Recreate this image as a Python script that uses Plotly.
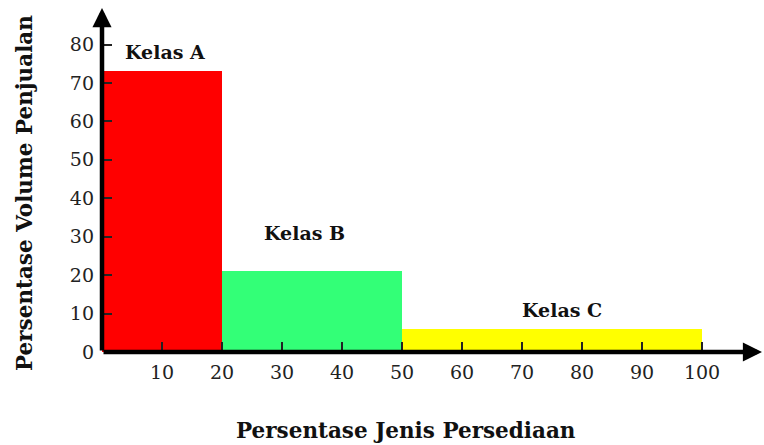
import plotly.graph_objects as go

# Inventory classes (ABC analysis)
classes = ["Kelas A", "Kelas B", "Kelas C"]
item_start = [0, 20, 50]          # cumulative % of inventory items, start of class
item_end = [20, 50, 100]          # cumulative % of inventory items, end of class
sales_share = [73, 21, 6]         # % of sales volume
bar_colors = ["#ff0000", "#33ff77", "#ffff00"]

x_ticks = [10, 20, 30, 40, 50, 60, 70, 80, 90, 100]
y_ticks = [0, 10, 20, 30, 40, 50, 60, 70, 80]

x_title = "Persentase Jenis Persediaan"
y_title = "Persentase Volume Penjualan"

SERIF = "'DejaVu Serif', serif"

centers = [(a + b) / 2 for a, b in zip(item_start, item_end)]
widths = [b - a for a, b in zip(item_start, item_end)]

fig = go.Figure()
fig.add_trace(go.Bar(
    x=centers, y=sales_share, width=widths,
    marker=dict(color=bar_colors, line=dict(width=0)),
    hoverinfo="skip", showlegend=False,
))

# class labels above each bar
label_pos = [(10.5, 78), (33.8, 31), (76.7, 11)]
for name, (lx, ly) in zip(classes, label_pos):
    fig.add_annotation(x=lx, y=ly, text=f"<b>{name}</b>", showarrow=False,
                       font=dict(family=SERIF, size=19, color="#111"))

X_MAX, Y_MAX = 110, 89.5
# arrowed axes
for tip in [(X_MAX, 0), (0, Y_MAX)]:
    fig.add_annotation(x=tip[0], y=tip[1], ax=0, ay=0, axref="x", ayref="y",
                       xref="x", yref="y", text="", showarrow=True, arrowhead=2,
                       arrowsize=0.85, arrowwidth=4.5, arrowcolor="#000")

tick_font = dict(size=19, family=SERIF, color="#222")
title_font = dict(size=21.5, family=SERIF, color="#111")

# axis titles, placed in paper pixels
W, H = 764, 445
fig.add_annotation(xref="paper", yref="paper", x=(406 - 102) / 660, y=-(430 - 352) / 344,
                   text=f"<b>{x_title}</b>", showarrow=False, font=title_font,
                   xanchor="center", yanchor="middle")
fig.add_annotation(xref="paper", yref="paper", x=-(102 - 24) / 660, y=(352 - 193) / 344,
                   text=f"<b>{y_title}</b>", showarrow=False, font=title_font,
                   textangle=-90, xanchor="center", yanchor="middle")

fig.update_layout(
    width=W, height=H,
    margin=dict(l=102, r=2, t=8, b=93),
    plot_bgcolor="white", paper_bgcolor="white",
    bargap=0,
    font=dict(family=SERIF, color="#222"),
    xaxis=dict(
        range=[0, X_MAX], tickvals=x_ticks, ticks="inside", ticklen=10,
        tickwidth=1.5, tickcolor="#222", showgrid=False, zeroline=False,
        showline=False, tickfont=tick_font, ticklabelstandoff=7,
        layer="above traces",
    ),
    yaxis=dict(
        range=[0, Y_MAX], tickvals=y_ticks, ticks="inside", ticklen=10,
        tickwidth=1.5, tickcolor="#222", showgrid=False, zeroline=False,
        showline=False, tickfont=tick_font, ticklabelstandoff=7,
        layer="above traces",
    ),
)

fig.write_html("out.html")
